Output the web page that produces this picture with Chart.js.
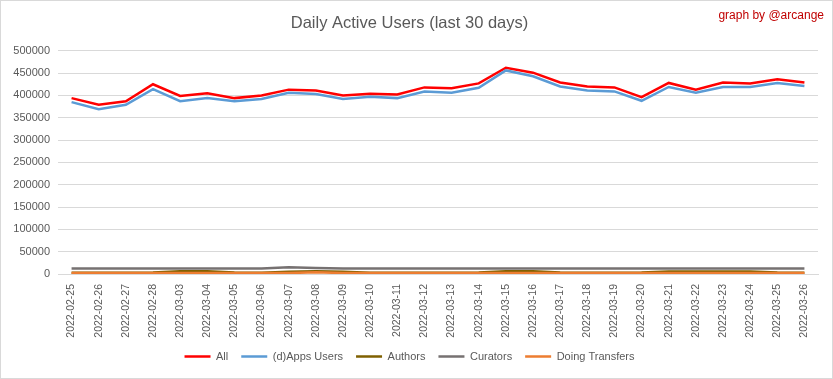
<!DOCTYPE html>
<html>
<head>
<meta charset="utf-8">
<script src="https://cdn.jsdelivr.net/npm/chart.js@4/dist/chart.umd.min.js"></script>
<style>
  html, body { margin: 0; padding: 0; background: #fff; }
  #wrap { position: relative; width: 833px; height: 379px; box-sizing: border-box; border: 1px solid #d9d9d9; }
  #credit { position: absolute; right: 8px; top: 7px; color: #c00000; font: 12px "Liberation Sans", Arial, sans-serif; }
</style>
</head>
<body>
<div id="wrap">
  <canvas id="chart" width="831" height="377"></canvas>
  <div id="credit">graph by @arcange</div>
</div>
<script>
const labels = ['2022-02-25','2022-02-26','2022-02-27','2022-02-28','2022-03-03','2022-03-04','2022-03-05',
  '2022-03-06','2022-03-07','2022-03-08','2022-03-09','2022-03-10','2022-03-11','2022-03-12','2022-03-13',
  '2022-03-14','2022-03-15','2022-03-16','2022-03-17','2022-03-18','2022-03-19','2022-03-20','2022-03-21',
  '2022-03-22','2022-03-23','2022-03-24','2022-03-25','2022-03-26'];

const allUsers = [394000,379000,387000,425000,399000,405000,394000,400000,413000,411000,400000,404000,402000,418000,
  416000,427000,462000,451000,429000,420000,418000,396000,428000,413000,429000,427000,436000,429000];
const appsUsers = [385000,369000,379000,414000,387000,394000,387000,392000,406000,403000,392000,397000,394000,409000,
  406000,417000,456000,443000,420000,411000,409000,388000,419000,406000,419000,419000,428000,421000];
const authors = [3000,3000,3000,3500,6000,6000,3500,3000,5000,6000,5000,3000,3000,3000,
  3000,3500,6000,6000,3500,3000,3000,3500,5500,5500,5500,5500,3500,3000];
const curators = [12500,12500,12500,12500,12500,12500,12500,12500,15000,13500,12500,12500,12500,12500,
  12500,12500,12500,12500,12500,12500,12500,12500,12500,12500,12500,12500,12500,12500];
const transfers = [2000,2000,2000,2000,2000,2000,2000,2000,2000,4000,2000,2000,2000,2000,
  2000,2000,2000,2000,2000,2000,2000,2000,2000,2000,2000,2000,2000,2000];

const font = '"Liberation Sans", Arial, sans-serif';

function series(label, values, color, order) {
  return {
    label: label,
    data: values,
    borderColor: color,
    backgroundColor: color,
    borderWidth: 2.5,
    pointRadius: 0,
    tension: 0,
    order: order,
  };
}

const data = {
  labels: labels,
  datasets: [
    series('All', allUsers, '#ff0000', 5),
    series('(d)Apps Users', appsUsers, '#5b9bd5', 4),
    series('Authors', authors, '#7f6000', 3),
    series('Curators', curators, '#767171', 2),
    series('Doing Transfers', transfers, '#ed7d31', 1),
  ]
};

const config = {
  type: 'line',
  data: data,
  options: {
    responsive: false,
    animation: false,
    layout: { padding: { left: 0, right: 14, top: 0, bottom: 6 } },
    plugins: {
      title: {
        display: true,
        text: 'Daily Active Users (last 30 days)',
        color: '#595959',
        font: { family: font, size: 16.5, weight: 'normal' },
        padding: { top: 13, bottom: 17 },
      },
      legend: {
        position: 'bottom',
        labels: {
          usePointStyle: true,
          pointStyle: 'line',
          pointStyleWidth: 26,
          color: '#595959',
          font: { family: font, size: 11 },
          padding: 13,
          sort: (a, b) => a.datasetIndex - b.datasetIndex,
        }
      },
      tooltip: { enabled: false },
    },
    scales: {
      x: {
        offset: true,
        grid: { display: false },
        border: { color: '#d9d9d9' },
        ticks: {
          minRotation: 90, maxRotation: 90,
          color: '#595959',
          font: { family: font, size: 10.5 },
          autoSkip: false,
          padding: 2,
        },
        afterFit: (s) => { s.height = 64; },
      },
      y: {
        min: 0, max: 500000,
        grid: { color: '#d9d9d9', drawTicks: false },
        border: { display: false },
        ticks: {
          stepSize: 50000,
          color: '#595959',
          font: { family: font, size: 11 },
          padding: 8,
          callback: (v) => String(v),
        },
        afterFit: (s) => { s.width = 57; },
      }
    }
  },
};

const chart = new Chart(document.getElementById('chart'), config);
</script>
</body>
</html>
